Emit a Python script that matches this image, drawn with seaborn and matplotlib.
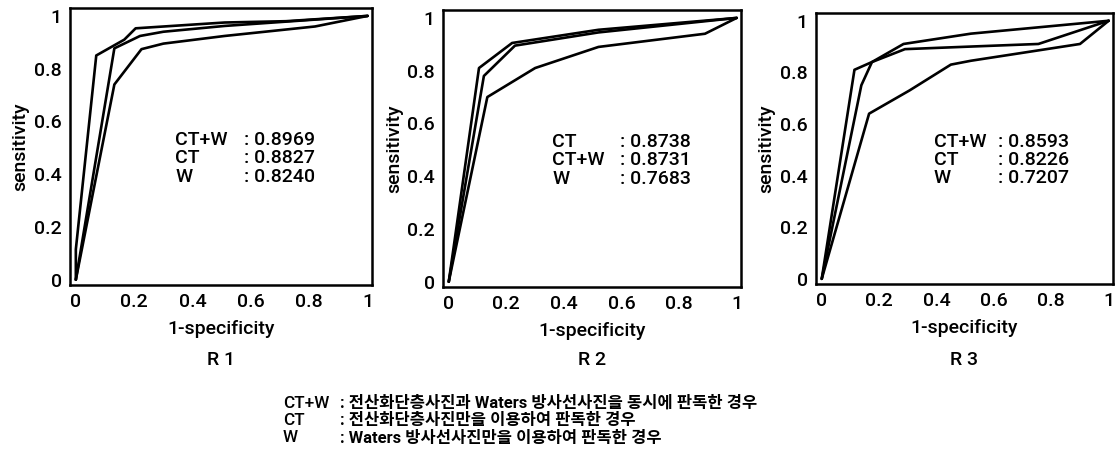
import matplotlib
matplotlib.use("Agg")
import matplotlib.pyplot as plt
import seaborn as sns
import pandas as pd

# ---------------- data ----------------
panel_titles = ["R 1", "R 2", "R 3"]
tick_values = [0, 0.2, 0.4, 0.6, 0.8, 1]
tick_labels = ["0", "0.2", "0.4", "0.6", "0.8", "1"]

# R1
r1_ctw_x = [0.0, 0.0, 0.07, 0.166, 0.205, 0.51, 0.72, 1.0]
r1_ctw_y = [0.0, 0.115, 0.85, 0.91, 0.953, 0.975, 0.98, 1.0]
r1_ct_x = [0.0, 0.132, 0.22, 0.30, 0.51, 1.0]
r1_ct_y = [0.0, 0.877, 0.924, 0.94, 0.962, 1.0]
r1_w_x = [0.0, 0.132, 0.225, 0.30, 0.51, 0.82, 1.0]
r1_w_y = [0.0, 0.74, 0.874, 0.895, 0.924, 0.96, 1.0]

# R2
r2_ct_x = [0.0, 0.105, 0.22, 0.52, 1.0]
r2_ct_y = [0.0, 0.81, 0.905, 0.955, 1.0]
r2_ctw_x = [0.0, 0.122, 0.23, 0.52, 1.0]
r2_ctw_y = [0.0, 0.78, 0.895, 0.945, 1.0]
r2_w_x = [0.0, 0.134, 0.30, 0.52, 0.89, 1.0]
r2_w_y = [0.0, 0.70, 0.81, 0.89, 0.94, 1.0]

# R3
r3_ctw_x = [0.0, 0.114, 0.175, 0.285, 0.52, 1.0]
r3_ctw_y = [0.0, 0.81, 0.84, 0.91, 0.95, 1.0]
r3_ct_x = [0.0, 0.138, 0.175, 0.29, 0.52, 0.755, 1.0]
r3_ct_y = [0.0, 0.75, 0.84, 0.89, 0.90, 0.91, 1.0]
r3_w_x = [0.0, 0.165, 0.306, 0.45, 0.52, 0.90, 1.0]
r3_w_y = [0.0, 0.64, 0.73, 0.83, 0.845, 0.91, 1.0]

# AUC annotations (order as printed in each panel)
r1_auc_names = ["CT+W", "CT", "W"]
r1_auc_values = ["0.8969", "0.8827", "0.8240"]
r2_auc_names = ["CT", "CT+W", "W"]
r2_auc_values = ["0.8738", "0.8731", "0.7683"]
r3_auc_names = ["CT+W", "CT", "W"]
r3_auc_values = ["0.8593", "0.8226", "0.7207"]

legend_names = ["CT+W", "CT", "W"]
legend_texts = [
    ": 전산화단층사진과 Waters 방사선사진을 동시에 판독한 경우",
    ": 전산화단층사진만을 이용하여 판독한 경우",
    ": Waters 방사선사진만을 이용하여 판독한 경우",
]

# ---------------- styling ----------------
sns.set_theme(style="white")
plt.rcParams["font.family"] = ["Roboto", "Noto Sans CJK KR", "DejaVu Sans"]

W, H = 1120, 462
fig = plt.figure(figsize=(W / 100, H / 100), dpi=100)
fig.patch.set_facecolor("white")

boxes = [
    (70, 8, 302, 277),
    (443, 10, 298, 277),
    (816, 13, 297, 271),
]

panels = [
    ([(r1_ctw_x, r1_ctw_y), (r1_ct_x, r1_ct_y), (r1_w_x, r1_w_y)],
     r1_auc_names, r1_auc_values, 0.34, 0.235),
    ([(r2_ct_x, r2_ct_y), (r2_ctw_x, r2_ctw_y), (r2_w_x, r2_w_y)],
     r2_auc_names, r2_auc_values, 0.36, 0.235),
    ([(r3_ctw_x, r3_ctw_y), (r3_ct_x, r3_ct_y), (r3_w_x, r3_w_y)],
     r3_auc_names, r3_auc_values, 0.39, 0.225),
]
row_y = [0.53, 0.46, 0.39]
FS = 14
WT = "medium"

for i, ((x0, y0, bw, bh), (curves, names, vals, tx, dx)) in enumerate(zip(boxes, panels)):
    ax = fig.add_axes([x0 / W, 1 - (y0 + bh) / H, bw / W, bh / H])
    for cx, cy in curves:
        df = pd.DataFrame({"x": cx, "y": cy})
        sns.lineplot(data=df, x="x", y="y", ax=ax, color="black",
                     linewidth=1.9, estimator=None, sort=False)
    ax.set_xlim(-0.02, 1.015)
    ax.set_ylim(-0.02, 1.03)
    ax.set_xticks(tick_values)
    ax.set_xticklabels(tick_labels, fontweight=WT)
    ax.set_yticks(tick_values)
    ax.set_yticklabels(tick_labels, fontweight=WT)
    ax.tick_params(axis="both", length=0, labelsize=FS, colors="black")
    ax.tick_params(axis="y", pad=6)
    ax.tick_params(axis="x", pad=6)
    ax.set_xlabel("1-specificity", fontsize=FS, color="black", labelpad=6,
                  fontweight=WT)
    ax.set_ylabel("sensitivity", fontsize=FS, color="black", labelpad=3,
                  fontweight=WT)
    for s in ax.spines.values():
        s.set_visible(True)
        s.set_color("black")
        s.set_linewidth(1.8)
    ax.grid(False)
    for n, v, yy in zip(names, vals, row_y):
        ax.text(tx, yy, n, fontsize=FS, va="center", ha="left", color="black",
                fontweight=WT)
        ax.text(tx + dx, yy, ": " + v, fontsize=FS, va="center", ha="left",
                color="black", fontweight=WT)
    fig.text((x0 + bw / 2) / W, 1 - 360 / H, panel_titles[i], fontsize=FS,
             ha="center", va="center", color="black", fontweight=WT)

for j, (n, t) in enumerate(zip(legend_names, legend_texts)):
    yy = 1 - (403 + j * 17.5) / H
    fig.text(283 / W, yy, n, fontsize=12.3, ha="left", va="center", color="black",
             fontweight="medium")
    fig.text(340 / W, yy, t, fontsize=11.9, ha="left", va="center", color="black",
             fontweight="bold")

fig.savefig("out.png", dpi=100, facecolor="white")
